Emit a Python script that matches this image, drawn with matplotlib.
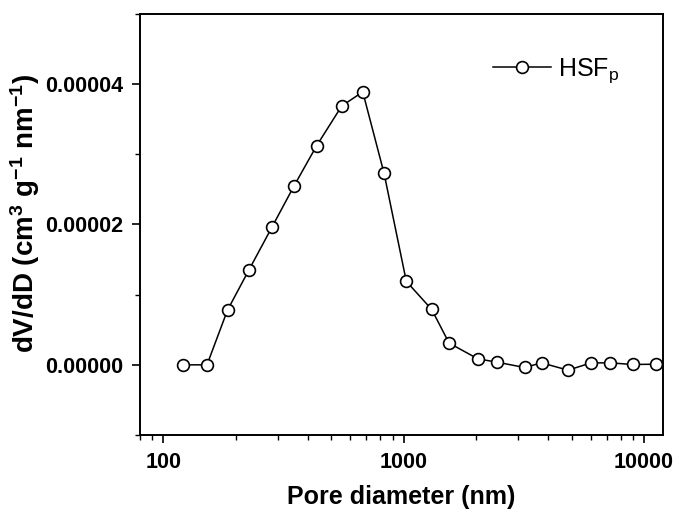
import matplotlib
matplotlib.use("Agg")
import matplotlib.pyplot as plt
from matplotlib.ticker import FixedLocator, FuncFormatter, LogLocator, NullFormatter, MultipleLocator

plt.rcParams['font.family'] = ['Liberation Sans', 'DejaVu Sans']
plt.rcParams['mathtext.fontset'] = 'custom'
plt.rcParams['mathtext.rm'] = 'Liberation Sans'
plt.rcParams['mathtext.bf'] = 'Liberation Sans:bold'
plt.rcParams['mathtext.default'] = 'regular'

# Data (pore diameter in nm, dV/dD)
pore_diameter = [121, 152, 185, 227, 284, 350, 434, 553, 676, 829, 1026, 1308,
                 1546, 2037, 2448, 3184, 3751, 4830, 6025, 7230, 8978, 11200]
dvdd = [0.0, 0.0, 0.78e-5, 1.35e-5, 1.97e-5, 2.55e-5, 3.12e-5, 3.69e-5, 3.89e-5,
        2.73e-5, 1.19e-5, 0.79e-5, 0.31e-5, 0.085e-5, 0.038e-5, -0.038e-5,
        0.028e-5, -0.076e-5, 0.028e-5, 0.028e-5, 0.005e-5, 0.009e-5]
series_label = r'HSF$_\mathregular{p}$'
x_ticks = [100, 1000, 10000]
y_ticks = [0.0, 0.00002, 0.00004]

fig = plt.figure(figsize=(6.79, 5.15), dpi=100)
ax = fig.add_axes([140/679, 1-435/515, (663-140)/679, (435-14)/515])

ax.plot(pore_diameter, dvdd, color='black', lw=1.1, marker='o', ms=8.5,
        mfc='white', mec='black', mew=1.2, label=series_label)

ax.set_xscale('log')
ax.set_xlim(80, 12000)
ax.set_ylim(-0.00001, 0.00005)

ax.xaxis.set_major_locator(FixedLocator(x_ticks))
ax.xaxis.set_major_formatter(FuncFormatter(lambda v, p: f'{int(round(v))}'))
ax.xaxis.set_minor_locator(LogLocator(base=10, subs=range(2, 10), numticks=20))
ax.xaxis.set_minor_formatter(NullFormatter())

ax.yaxis.set_major_locator(FixedLocator(y_ticks))
ax.yaxis.set_major_formatter(FuncFormatter(lambda v, p: f'{v:.5f}'))
ax.yaxis.set_minor_locator(MultipleLocator(0.00001))

ax.tick_params(which='major', direction='out', length=6, width=1.2,
               labelsize=15.5, pad=6)
ax.tick_params(which='minor', direction='out', length=3.5, width=1.0)
for lab in ax.get_xticklabels() + ax.get_yticklabels():
    lab.set_fontweight('bold')
for s in ax.spines.values():
    s.set_linewidth(1.4)

ax.set_xlabel('Pore diameter (nm)', fontsize=18, fontweight='bold', labelpad=9)
ax.set_ylabel(r'dV/dD (cm$^{3}$ g$^{-1}$ nm$^{-1}$)', fontsize=20,
              fontweight='bold')
ax.yaxis.set_label_coords((42 - 140) / 523, (435 - 213) / 421)

leg = ax.legend(loc='center left', frameon=False, fontsize=18,
                handlelength=2.3, handletextpad=0.3, borderpad=0,
                borderaxespad=0,
                bbox_to_anchor=((493 - 140) / 523, (435 - 71) / 421))

fig.savefig('out.png', dpi=100)
